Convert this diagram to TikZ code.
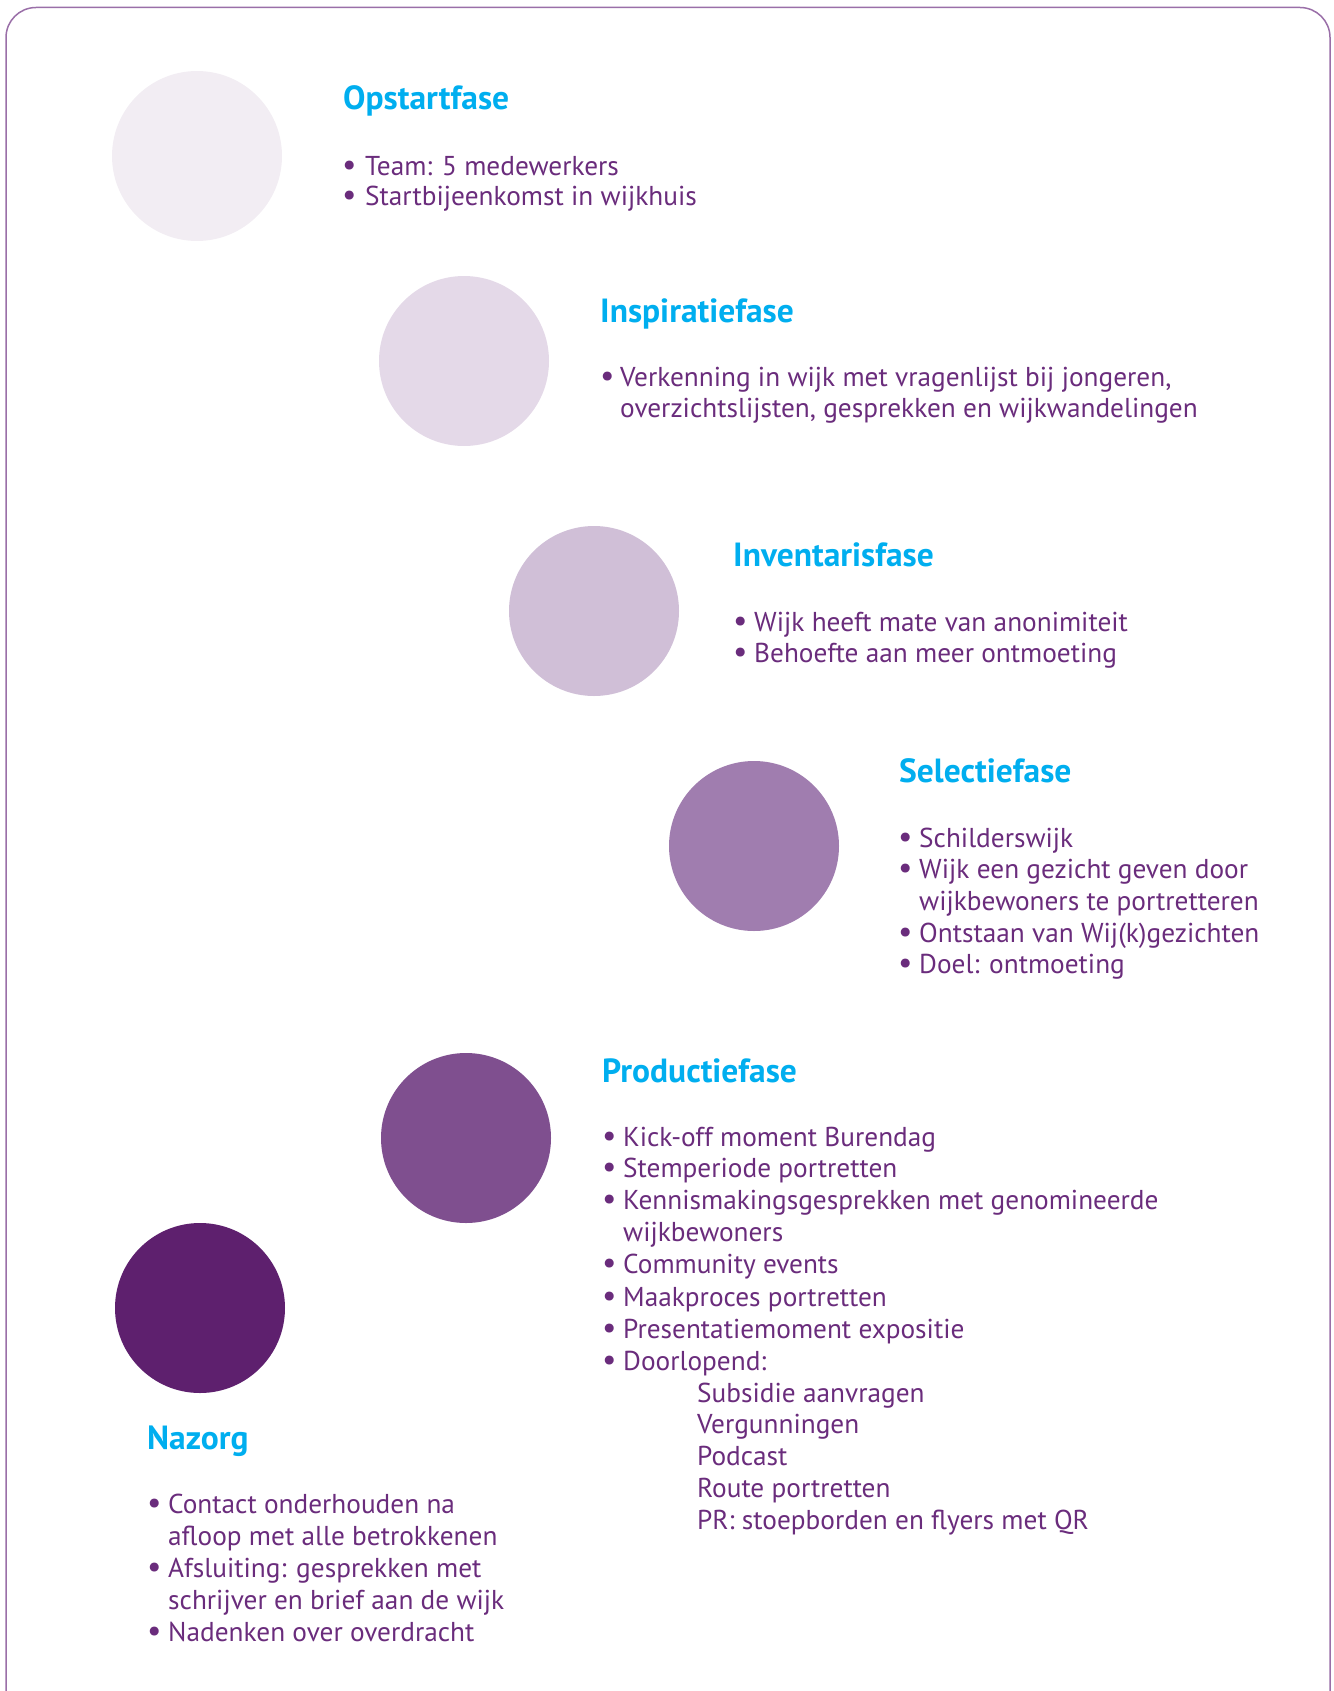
\documentclass[tikz,border=0pt]{standalone}
\usepackage{fontspec}
\setmainfont{PT Sans}
\definecolor{framec}{HTML}{9A6FA8}
\definecolor{titlec}{HTML}{00AEEF}
\definecolor{bodyc}{HTML}{6A2C7C}
\definecolor{ca}{HTML}{F2EDF3}
\definecolor{cb}{HTML}{E4D9E8}
\definecolor{cc}{HTML}{D0BFD7}
\definecolor{cd}{HTML}{A07DAF}
\definecolor{ce}{HTML}{7F4F8F}
\definecolor{cf}{HTML}{5E206E}
\newcommand{\myBul}[5]{%
  \node[bullet] (#1b) at (#2,#4) {•};
  \node[body] (#1) at (#3,#4) {#5};}
\newcommand{\myCont}[4]{\node[body] (#1) at (#2,#3) {#4};}
\begin{document}
\begin{tikzpicture}[x=1pt,y=-1pt,
  phase/.style={circle,inner sep=0pt,minimum size=170pt,draw=none},
  ttl/.style={anchor=base west,inner sep=0pt,text=titlec,font=\fontsize{33.5}{34}\selectfont\bfseries},
  body/.style={anchor=base west,inner sep=0pt,text=bodyc,font=\fontsize{27.3}{32}\selectfont},
  bullet/.style={anchor=base west,inner sep=0pt,text=bodyc,font=\fontsize{32}{32}\selectfont}]
\useasboundingbox (0,0) rectangle (1333,1691);
\clip (0,0) rectangle (1333,1691);
\draw[framec,line width=1.5pt,rounded corners=30pt] (6,7.5) rectangle (1330,1730);
% circles
\node[phase,fill=ca] (p1) at (197,156) {};
\node[phase,fill=cb] (p2) at (464,361) {};
\node[phase,fill=cc] (p3) at (594,611) {};
\node[phase,fill=cd] (p4) at (754,846) {};
\node[phase,fill=ce] (p5) at (466,1138) {};
\node[phase,fill=cf] (p6) at (200,1308) {};
% Opstartfase
\node[ttl] (t1) at (343,110) {Opstartfase};
\myBul{a1}{342}{365}{175}{Team: 5 medewerkers}
\myBul{a2}{342}{365}{205}{Startbijeenkomst in wijkhuis}
% Inspiratiefase
\node[ttl] (t2) at (600,322) {Inspiratiefase};
\myBul{b1}{600}{620}{386}{Verkenning in wijk met vragenlijst bij jongeren,}
\myCont{b2}{620}{417}{overzichtslijsten, gesprekken en wijkwandelingen}
% Inventarisfase
\node[ttl] (t3) at (733,566) {Inventarisfase};
\myBul{c1}{733}{754}{631}{Wijk heeft mate van anonimiteit}
\myBul{c2}{733}{754}{662}{Behoefte aan meer ontmoeting}
% Selectiefase
\node[ttl] (t4) at (899,782) {Selectiefase};
\myBul{d1}{898}{919}{847}{Schilderswijk}
\myBul{d2}{898}{919}{878}{Wijk een gezicht geven door}
\myCont{d3}{919}{910}{wijkbewoners te portretteren}
\myBul{d4}{898}{919}{942}{Ontstaan van Wij(k)gezichten}
\myBul{d5}{898}{919}{973}{Doel: ontmoeting}
% Productiefase
\node[ttl] (t5) at (602,1082) {Productiefase};
\myBul{e1}{602}{623}{1146}{Kick-off moment Burendag}
\myBul{e2}{602}{623}{1177}{Stemperiode portretten}
\myBul{e3}{602}{623}{1209}{Kennismakingsgesprekken met genomineerde}
\myCont{e4}{623}{1241}{wijkbewoners}
\myBul{e5}{602}{623}{1273}{Community events}
\myBul{e6}{602}{623}{1306}{Maakproces portretten}
\myBul{e7}{602}{623}{1338}{Presentatiemoment expositie}
\myBul{e8}{602}{623}{1370}{Doorlopend:}
\myCont{e9}{697}{1402}{Subsidie aanvragen}
\myCont{e10}{697}{1433}{Vergunningen}
\myCont{e11}{697}{1465}{Podcast}
\myCont{e12}{697}{1497}{Route portretten}
\myCont{e13}{697}{1529}{PR: stoepborden en flyers met QR}
% Nazorg
\node[ttl] (t6) at (147,1449) {Nazorg};
\myBul{f1}{147}{168}{1513}{Contact onderhouden na}
\myCont{f2}{168}{1545}{afloop met alle betrokkenen}
\myBul{f3}{147}{168}{1577}{Afsluiting: gesprekken met}
\myCont{f4}{168}{1609}{schrijver en brief aan de wijk}
\myBul{f5}{147}{168}{1641}{Nadenken over overdracht}
\end{tikzpicture}
\end{document}
